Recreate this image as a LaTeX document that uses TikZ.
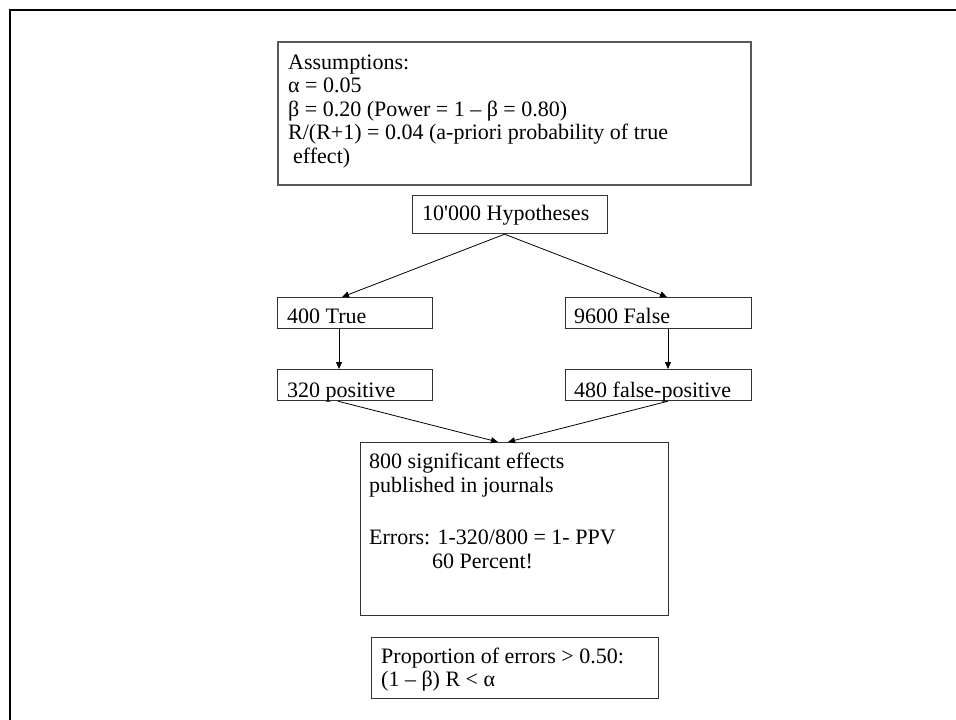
\documentclass[tikz,border=0pt]{standalone}
\usepackage{fontspec}
\setmainfont{Liberation Serif}
\usetikzlibrary{arrows.meta,calc}
\begin{document}
\begin{tikzpicture}[x=1pt,y=-1pt,
  box/.style={draw=black!80, line width=1.2pt, inner sep=0pt, anchor=north west},
  txt/.style={anchor=base west, inner sep=0pt, font=\fontsize{22}{24}\selectfont},
  arr/.style={line width=0.8pt, -{Triangle[width=6pt,length=7pt]}}]
\useasboundingbox (0,0) rectangle (956,720);
% frame
\draw[line width=2.5pt] (10,720) -- (10,10) -- (956,10);
% boxes
\node[box, draw=black!65, line width=1.8pt, minimum width=473pt, minimum height=143pt] (asm) at (277,41) {};
\node[box, minimum width=195pt, minimum height=38pt] (hyp) at (412,195) {};
\node[box, minimum width=155pt, minimum height=31pt] (tru) at (277,297) {};
\node[box, minimum width=186pt, minimum height=31pt] (fal) at (565,297) {};
\node[box, minimum width=155pt, minimum height=31pt] (pos) at (277,369) {};
\node[box, minimum width=186pt, minimum height=31pt] (fpo) at (565,369) {};
\node[box, minimum width=308pt, minimum height=173pt] (sig) at (360,442) {};
\node[box, minimum width=287pt, minimum height=61pt] (prop) at (371,637) {};
% texts
\node[txt] (a1) at (288,69) {Assumptions:};
\node[txt] (a2) at (288,92.5) {α = 0.05};
\node[txt] (a3) at (288,116) {β = 0.20 (Power = 1 – β = 0.80)};
\node[txt] (a4) at (288,139.5) {R/(R+1) = 0.04 (a-priori probability of true};
\node[txt] (a5) at (293,163) {effect)};
\node[txt] (h1) at (422,220) {10\textquotesingle 000 Hypotheses};
\node[txt] (t1) at (287,323) {400 True};
\node[txt] (f1) at (574,323) {9600 False};
\begin{scope}
\clip (pos.north west) rectangle (pos.south east);
\node[txt] (p1) at (287,397.5) {320 positive};
\end{scope}
\begin{scope}
\clip (fpo.north west) rectangle (fpo.south east);
\node[txt] (q1) at (574,397.5) {480 false-positive};
\end{scope}
\node[txt] (s1) at (369,468) {800 significant effects};
\node[txt] (s2) at (369,492) {published in journals};
\node[txt] (s3) at (369,544) {Errors: 1-320/800 = 1- PPV};
\node[txt] (s4) at (432,568) {60 Percent!};
\node[txt] (r1) at (381,663) {Proportion of errors > 0.50:};
\node[txt] (r2) at (381,686.5) {(1 – β) R < α};
% connectors
\draw[arr] ([xshift=-5.5pt]hyp.south) -- ([xshift=65pt]tru.north west);
\draw[arr] ([xshift=-5.5pt]hyp.south) -- ([xshift=102pt]fal.north west);
\draw[arr] ([xshift=62pt]tru.south west) -- ([xshift=62pt]pos.north west);
\draw[arr] ([xshift=103pt]fal.south west) -- ([xshift=103pt]fpo.north west);
\draw[arr] ([xshift=61pt]pos.south west) -- ([xshift=138pt]sig.north west);
\draw[arr] ([xshift=103pt]fpo.south west) -- ([xshift=148pt]sig.north west);
\end{tikzpicture}
\end{document}
